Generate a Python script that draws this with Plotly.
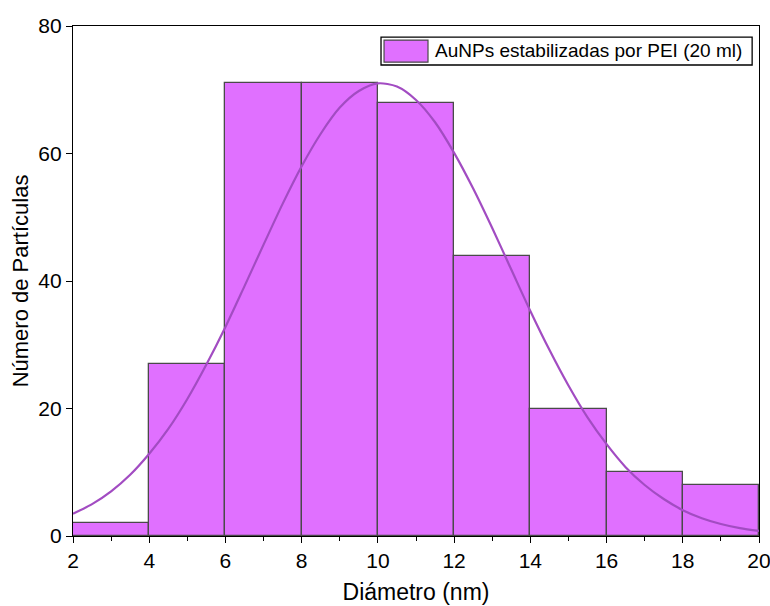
import plotly.graph_objects as go

# Histogram of particle diameters (bin edges every 2 nm)
bin_left = [2, 4, 6, 8, 10, 12, 14, 16, 18]
counts = [2, 27, 71, 71, 68, 44, 20, 10, 8]
bin_width = 2

# Fitted normal distribution curve, sampled every 0.5 nm
fit_x = [2, 2.5, 3, 3.5, 4, 4.5, 5, 5.5, 6, 6.5, 7, 7.5, 8, 8.5, 9, 9.5,
         10, 10.5, 11, 11.5, 12, 12.5, 13, 13.5, 14, 14.5, 15, 15.5, 16,
         16.5, 17, 17.5, 18, 18.5, 19, 19.5, 20]
fit_y = [3.5, 5.0, 7.0, 9.6, 12.9, 16.8, 21.5, 26.9, 32.8, 39.2, 45.7, 52.1,
         58.0, 63.1, 67.2, 69.8, 71.0, 70.5, 68.4, 64.9, 60.1, 54.5, 48.3,
         41.8, 35.3, 29.2, 23.6, 18.6, 14.4, 10.8, 8.0, 5.8, 4.05, 2.79,
         1.88, 1.23, 0.79]

series_name = "AuNPs estabilizadas por PEI (20 ml)"
x_ticks = [2, 4, 6, 8, 10, 12, 14, 16, 18, 20]
y_ticks = [0, 20, 40, 60, 80]

bar_color = "#E070FF"
edge_color = "#4A4A4A"
curve_color = "#A24CC2"
font_family = "Liberation Sans, Arial, sans-serif"

fig = go.Figure()
fig.add_trace(go.Bar(
    x=[b + bin_width / 2 for b in bin_left],
    y=counts,
    width=[bin_width] * len(counts),
    marker=dict(color=bar_color, line=dict(color=edge_color, width=1.3)),
    name=series_name,
    showlegend=False,
))
fig.add_trace(go.Scatter(
    x=fit_x, y=fit_y, mode="lines",
    line=dict(color=curve_color, width=2.2, shape="spline", smoothing=0.8),
    showlegend=False,
))

axis_common = dict(
    showline=True, linecolor="black", linewidth=1.3, mirror=True,
    ticks="outside", ticklen=6, tickwidth=1.3, tickcolor="black",
    showgrid=False, zeroline=False, automargin=False,
    ticklabeloverflow="allow",
    tickfont=dict(size=21, color="black", family=font_family),
)

fig.update_layout(
    width=770, height=606,
    margin=dict(l=73, r=11, t=26, b=70),
    plot_bgcolor="white", paper_bgcolor="white",
    bargap=0,
    font=dict(family=font_family, color="black"),
    xaxis=dict(
        range=[2, 20], tickvals=x_ticks,
        minor=dict(ticks="outside", ticklen=4, tickwidth=1.3, tickcolor="black", dtick=1),
        title=dict(text="Diámetro (nm)", font=dict(size=23), standoff=12),
        **axis_common,
    ),
    yaxis=dict(
        range=[0, 80], tickvals=y_ticks,
        title=dict(text="Número de Partículas", font=dict(size=22), standoff=3),
        **axis_common,
    ),
)

# Legend box drawn in paper coordinates
fig.add_shape(type="rect", xref="paper", yref="paper",
              x0=0.449, x1=0.990, y0=0.9235, y1=0.978,
              line=dict(color="black", width=1.3), fillcolor="white", layer="above")
fig.add_shape(type="rect", xref="paper", yref="paper",
              x0=0.4534, x1=0.5175, y0=0.929, y1=0.9725,
              line=dict(color=edge_color, width=1.2), fillcolor=bar_color, layer="above")
fig.add_annotation(xref="paper", yref="paper", x=0.5248, y=0.951,
                   xanchor="left", yanchor="middle", showarrow=False,
                   text=series_name, font=dict(size=19, color="black", family=font_family))

fig.write_html("out.html")
